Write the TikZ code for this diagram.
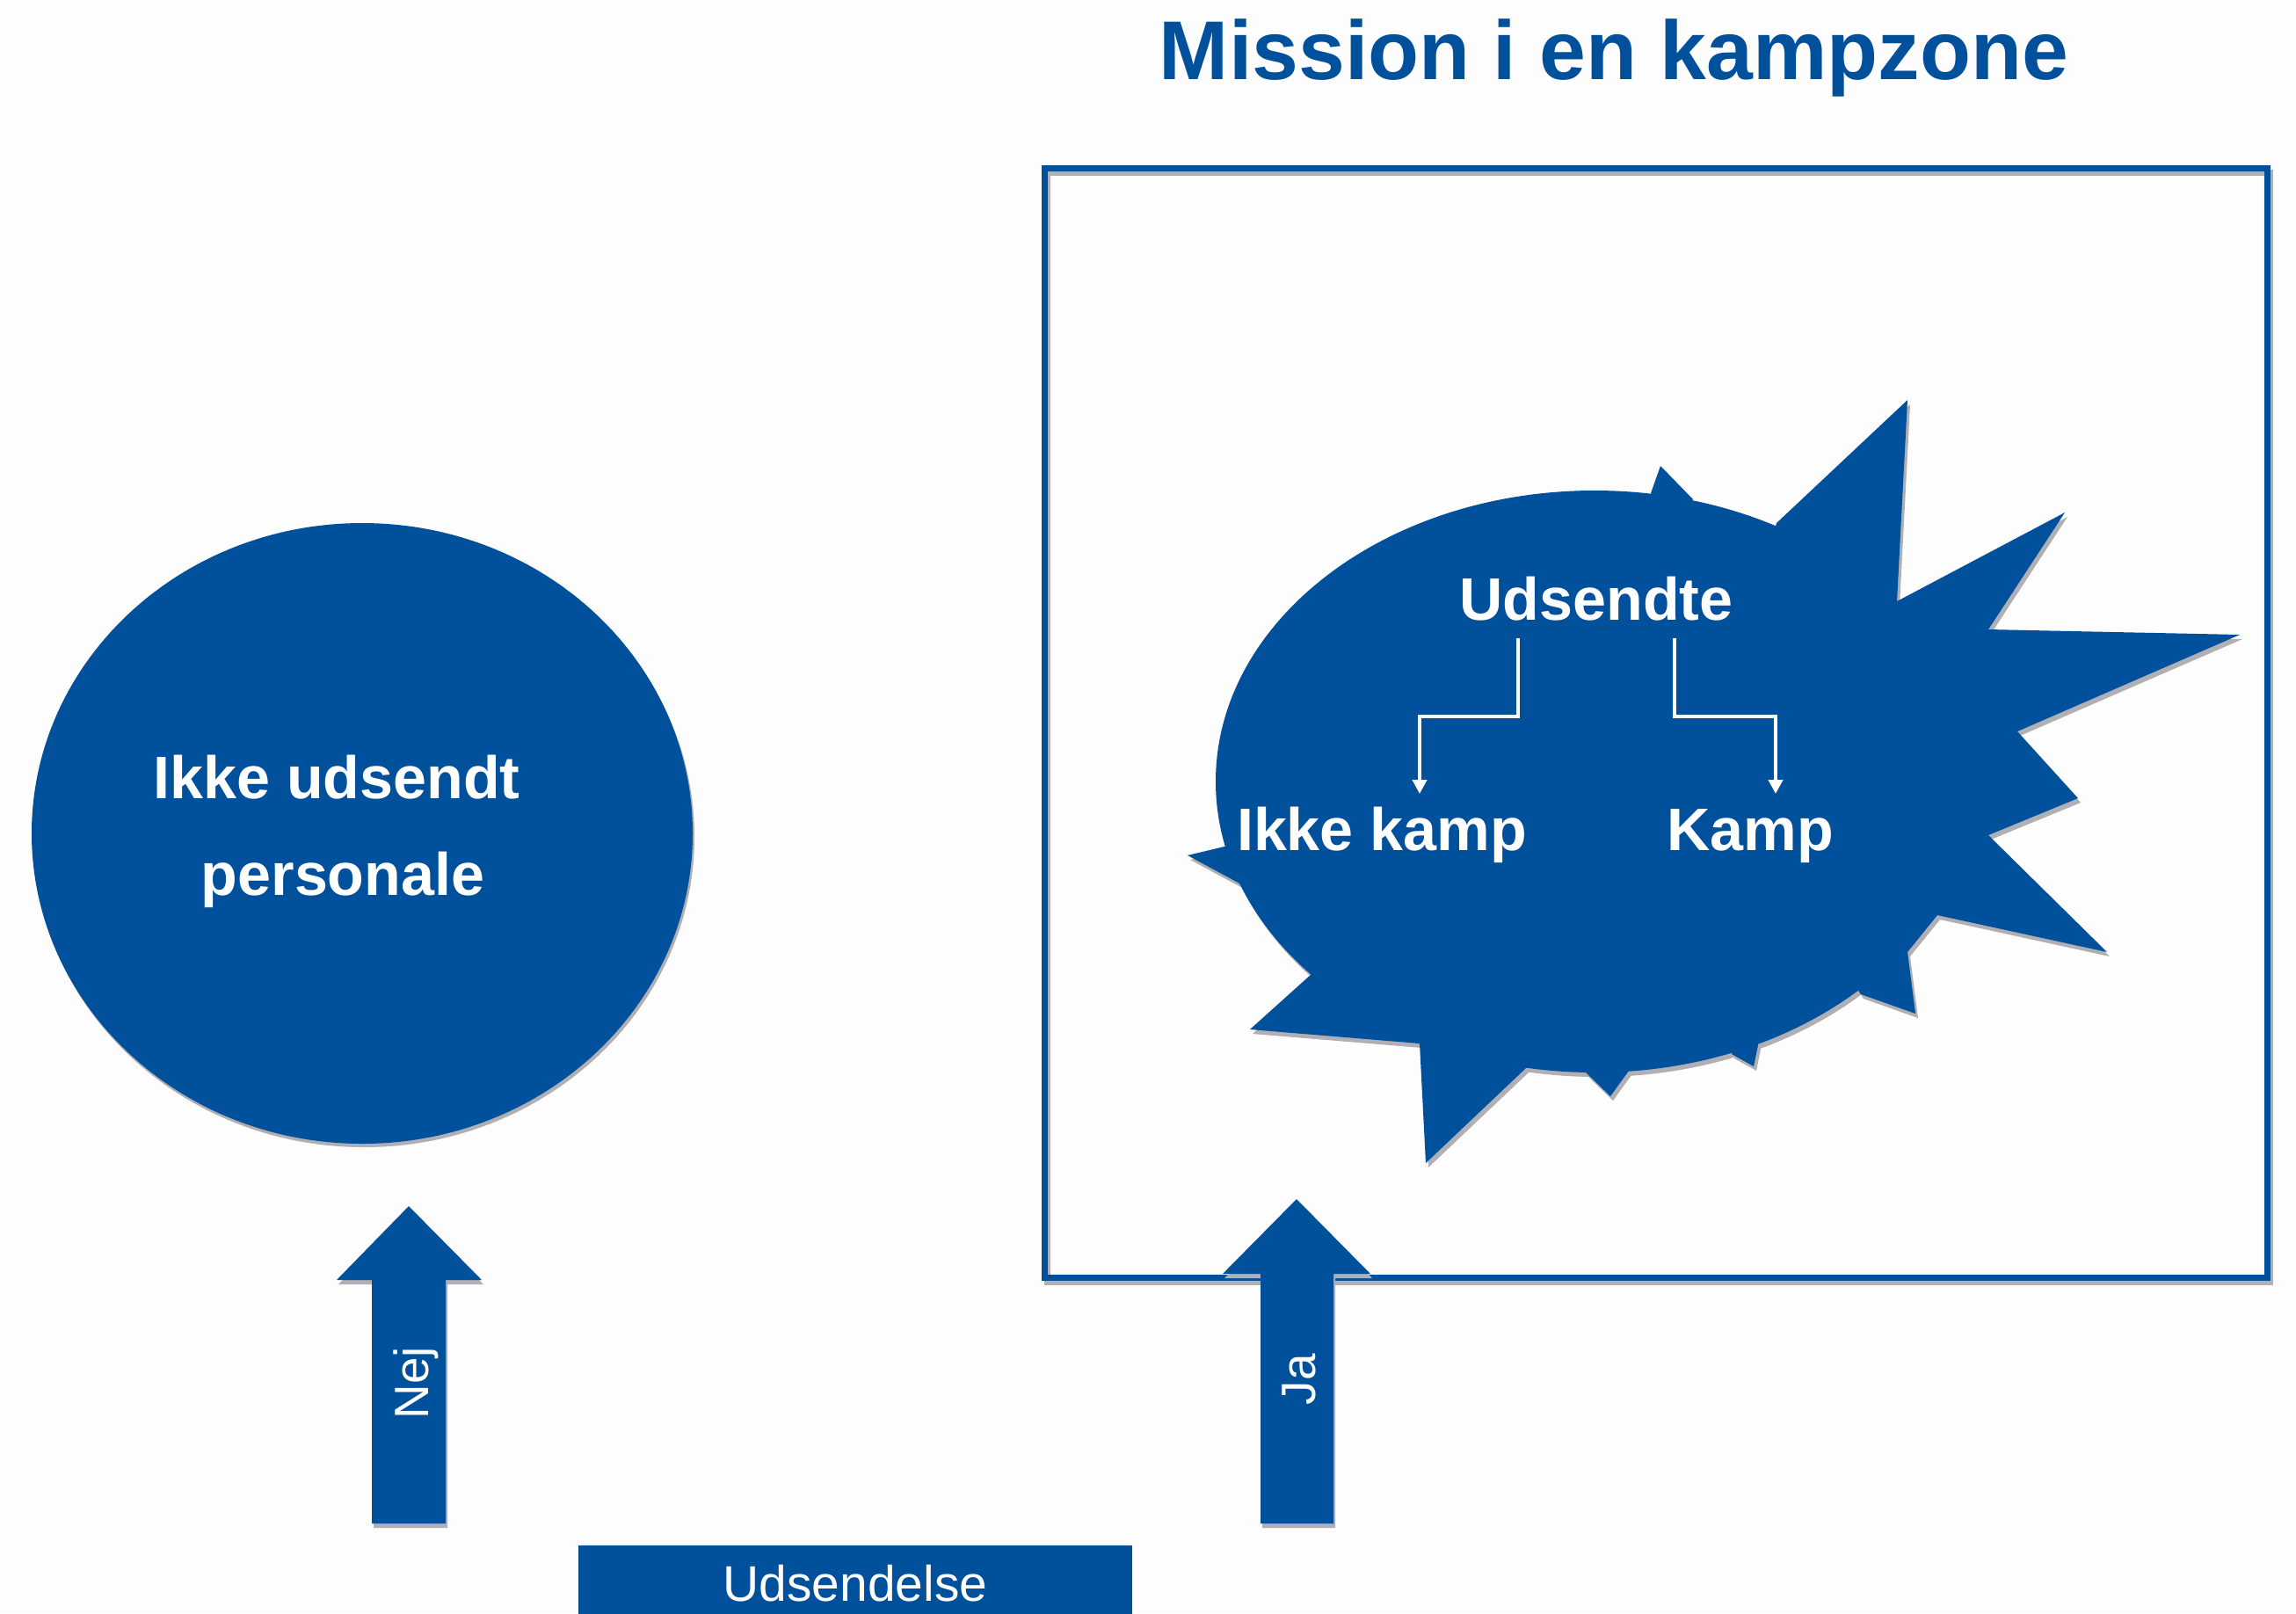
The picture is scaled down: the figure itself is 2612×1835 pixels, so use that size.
\documentclass[tikz,border=0pt]{standalone}
\usepackage{fontspec}
\setmainfont{Liberation Sans}
\usetikzlibrary{arrows.meta}
\definecolor{dkblue}{RGB}{0,80,155}
\definecolor{bgc}{RGB}{253,253,253}
\definecolor{shd}{RGB}{175,175,180}
\newcommand\drawburst[1]{%
  \fill[#1] (1814,889) ellipse [x radius=431, y radius=331];
  \fill[#1] (1878,561) -- (1889,530) -- (1926,568) -- (1900,600) -- cycle;
  \fill[#1] (2021,595) -- (2170,455) -- (2158,684) -- (2349,583) -- (2262,716)
     -- (2548,722) -- (2295,832) -- (2364,908) -- (2262,950) -- (2397,1083)
     -- (2204,1041) -- (2170,1083) -- (2179,1153) -- (2117,1131) -- (1950,889) -- cycle;
  \fill[#1] (2000,1189) -- (1995,1213) -- (1970,1199) -- (1985,1150) -- cycle;
  \fill[#1] (1853,1218) -- (1832,1247) -- (1803,1219) -- (1830,1180) -- cycle;
  \fill[#1] (1737,1214) -- (1622,1323) -- (1615,1187) -- (1422,1171) -- (1492,1108) -- (1650,1050) -- cycle;
  \fill[#1] (1414,1007) -- (1351,973) -- (1393,963) -- (1450,970) -- cycle;
}
\newcommand\drawupnej[1]{%
  \fill[#1] (423,1733) -- (423,1456) -- (383,1456) -- (465,1372) -- (548,1456) -- (507,1456) -- (507,1733) -- cycle;}
\newcommand\drawupja[1]{%
  \fill[#1] (1434,1733) -- (1434,1449) -- (1391,1449) -- (1475,1364) -- (1559,1449) -- (1517,1449) -- (1517,1733) -- cycle;}
\begin{document}
\begin{tikzpicture}[x=0.01cm,y=-0.01cm,
  boldtxt/.style={text=white,font=\bfseries\fontsize{19.4pt}{23pt}\selectfont,inner sep=0,anchor=base},
  sidetxt/.style={text=white,font=\fontsize{15.6pt}{18pt}\selectfont,inner sep=0,rotate=90},
  wline/.style={draw=white,line width=0.4mm,-{Triangle[length=1.6mm,width=1.6mm]}}]
\useasboundingbox (0,0) rectangle (2612,1835);
\fill[bgc] (0,0) rectangle (2612,1835);

% title
\node[text=dkblue,font=\bfseries\fontsize{27pt}{32pt}\selectfont,inner sep=0,anchor=base] (title) at (1836,90) {Mission i en kampzone};

% frame
\draw[shd,line width=0.7mm] (1191,196) rectangle (2582,1458);
\draw[dkblue,line width=0.7mm] (1188,191) rectangle (2579,1453);

% left ellipse
\fill[shd] (414,952) ellipse [x radius=376, y radius=353];
\fill[dkblue] (412,948) ellipse [x radius=376, y radius=353];
\node[boldtxt] (nu1) at (383,908) {Ikke udsendt};
\node[boldtxt] (nu2) at (390,1018) {personale};

% burst
\begin{scope}[shift={(3,5)}]
  \drawburst{shd}
\end{scope}
\drawburst{dkblue}
\node[boldtxt] (ud) at (1816,705) {Udsendte};
\node[boldtxt] (ik) at (1572,967) {Ikke kamp};
\node[boldtxt] (ka) at (1991,967) {Kamp};
\coordinate (udl) at (1727,726);
\coordinate (udr) at (1905,726);
\coordinate (ikt) at (1615,903);
\coordinate (kat) at (2020,903);
\draw[wline] (udl) -- ++(0,89) -| (ikt);
\draw[wline] (udr) -- ++(0,89) -| (kat);

% up arrows
\begin{scope}[shift={(2,5)}]
  \drawupnej{shd}
  \drawupja{shd}
\end{scope}
\drawupnej{dkblue}
\drawupja{dkblue}
\node[sidetxt] (nej) at (473,1573) {Nej};
\node[sidetxt] (ja) at (1478,1569) {Ja};

% bottom box
\node[fill=dkblue,text=white,font=\fontsize{16.2pt}{19pt}\selectfont,minimum width=63mm,minimum height=8.6mm,inner sep=0,anchor=north] (uds) at (973,1757) {Udsendelse};
\end{tikzpicture}
\end{document}
